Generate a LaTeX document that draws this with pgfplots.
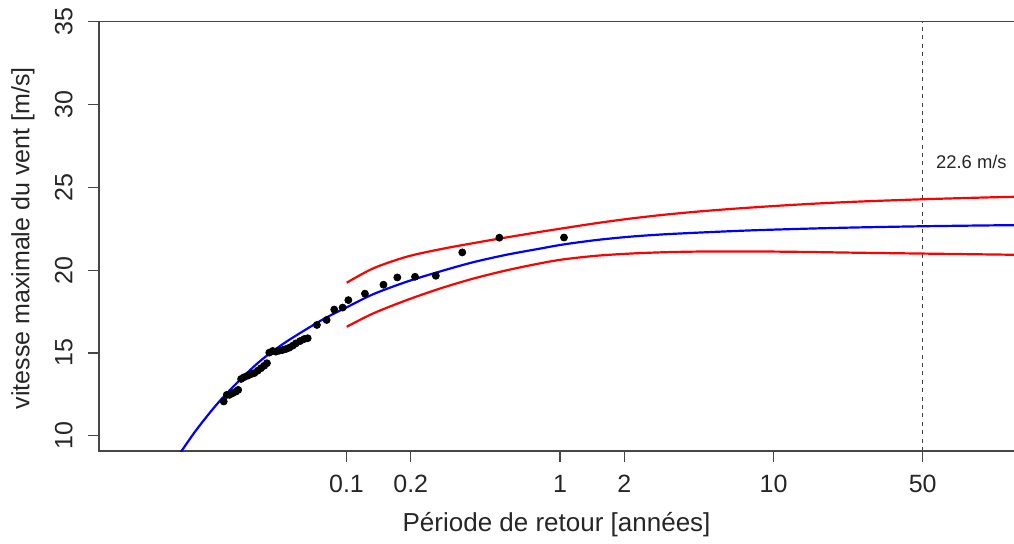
\documentclass[border=0pt]{standalone}
\usepackage{pgfplots}
\pgfplotsset{compat=1.18}
\usepackage{fontspec}
\setmainfont{Liberation Sans}
\definecolor{rblue}{RGB}{0,0,255}
\definecolor{rred}{RGB}{255,0,0}
\definecolor{frame}{RGB}{70,70,70}
\begin{document}
\begin{tikzpicture}
\begin{axis}[
  scale only axis,
  width=462pt, height=214.65pt,
  xmode=log,
  xmin=0.00693, xmax=147.4,
  ymin=9.08, ymax=35,
  axis line style={frame, line width=0.6pt},
  tick style={frame, line width=0.6pt},
  tick align=outside,
  major tick length=5.5pt,
  xtick pos=bottom, ytick pos=left,
  xtick={0.1,0.2,1,2,10,50},
  xticklabels={0.1,0.2,1,2,10,50},
  minor xtick={},
  ytick={10,15,20,25,30,35},
  yticklabels={10,15,20,25,30,35},
  /pgf/number format/assume math mode=true,
  ticklabel style={font=\fontsize{12.5}{14}\selectfont, text=black!85},
  xticklabel style={yshift=-3pt},
  yticklabel style={rotate=90, anchor=south, inner sep=7.5pt},
  every axis x label/.style={at={(rel axis cs:0.5,0)}, anchor=center, yshift=-37pt, xshift=-2.2pt, font=\fontsize{13}{15}\selectfont, text=black!85},
  every axis y label/.style={at={(rel axis cs:0,0.5)}, xshift=-38pt, yshift=-1pt, rotate=90, anchor=center, font=\fontsize{12.5}{14}\selectfont, text=black!85},
  xlabel={Période de retour [années]},
  ylabel={vitesse maximale du vent [m/s]},
  clip=true,
]
\coordinate (bl) at (rel axis cs:0,0);
\coordinate (tl) at (rel axis cs:0,1);
% vertical dashed line at 50 years
\draw[black!75, line width=0.5pt, dash pattern=on 2pt off 2.2pt] (axis cs:50,9.08) -- (axis cs:50,35);
\node[font=\fontsize{9.2}{11}\selectfont, text=black!85] at (axis cs:84.5,26.55) {22.6 m/s};
% fitted return-level curve
\addplot[rblue, line width=1.1pt, smooth] coordinates {
(0.01622,8.79) (0.01679,9.04) (0.01995,10.41) (0.02512,12.01) (0.03206,13.44)
(0.03981,14.56) (0.05012,15.52) (0.06310,16.34) (0.07943,17.10) (0.1,17.75)
(0.1335,18.55) (0.1914,19.30) (0.2742,19.92) (0.3926,20.48) (0.5623,20.93)
(0.8060,21.30) (1.036,21.55) (1.486,21.82) (2.128,22.02) (3.048,22.16)
(4.365,22.26) (6.252,22.35) (8.650,22.42) (15.85,22.52) (25.12,22.58)
(50.12,22.65) (100,22.70) (147.9,22.72)
};
% upper confidence bound
\addplot[rred, line width=1.1pt, smooth] coordinates {
(0.1002,19.24) (0.1335,20.11) (0.1914,20.81) (0.2742,21.26) (0.3926,21.63)
(0.5236,21.91) (0.8060,22.31) (1.036,22.53) (1.486,22.84) (2.128,23.11)
(3.048,23.34) (4.365,23.53) (6.252,23.69) (10,23.87) (15.85,24.02)
(25.12,24.14) (50.12,24.28) (100,24.39) (147.9,24.44)
};
% lower confidence bound
\addplot[rred, line width=1.1pt, smooth] coordinates {
(0.1002,16.58) (0.1335,17.39) (0.1914,18.19) (0.2742,18.89) (0.3926,19.49)
(0.5623,19.99) (0.8060,20.41) (1.036,20.65) (1.486,20.87) (2.128,21.00)
(3.048,21.08) (4.365,21.12) (6.252,21.13) (10,21.12) (15.85,21.09)
(25.12,21.05) (50.12,21.00) (100,20.95) (147.9,20.92)
};
% observations
\addplot[only marks, mark=*, mark size=1.75pt, black] coordinates {
(0.0266,12.07) (0.0275,12.47) (0.0283,12.47) (0.0293,12.57) (0.0304,12.67)
(0.0311,12.77) (0.0321,13.43) (0.0332,13.54) (0.0345,13.63) (0.0357,13.72)
(0.0370,13.78) (0.0384,13.93) (0.0398,14.08) (0.0412,14.23) (0.0424,14.38)
(0.0435,15.02) (0.0451,15.12) (0.0467,15.08) (0.0484,15.14) (0.0502,15.18)
(0.0521,15.24) (0.0540,15.32) (0.0560,15.44) (0.0580,15.58) (0.0607,15.72)
(0.0634,15.84) (0.0658,15.89) (0.0727,16.69) (0.0807,16.99) (0.0876,17.62)
(0.0959,17.74) (0.1020,18.19) (0.1220,18.58) (0.1490,19.12) (0.1730,19.56)
(0.2094,19.60) (0.262,19.66) (0.3485,21.07) (0.5200,21.96) (1.044,21.97)
};
\end{axis}
\pgfresetboundingbox
\path ([xshift=-49.5pt,yshift=-46pt]bl) rectangle ([xshift=457.5pt,yshift=10.85pt]tl);
\end{tikzpicture}
\end{document}
